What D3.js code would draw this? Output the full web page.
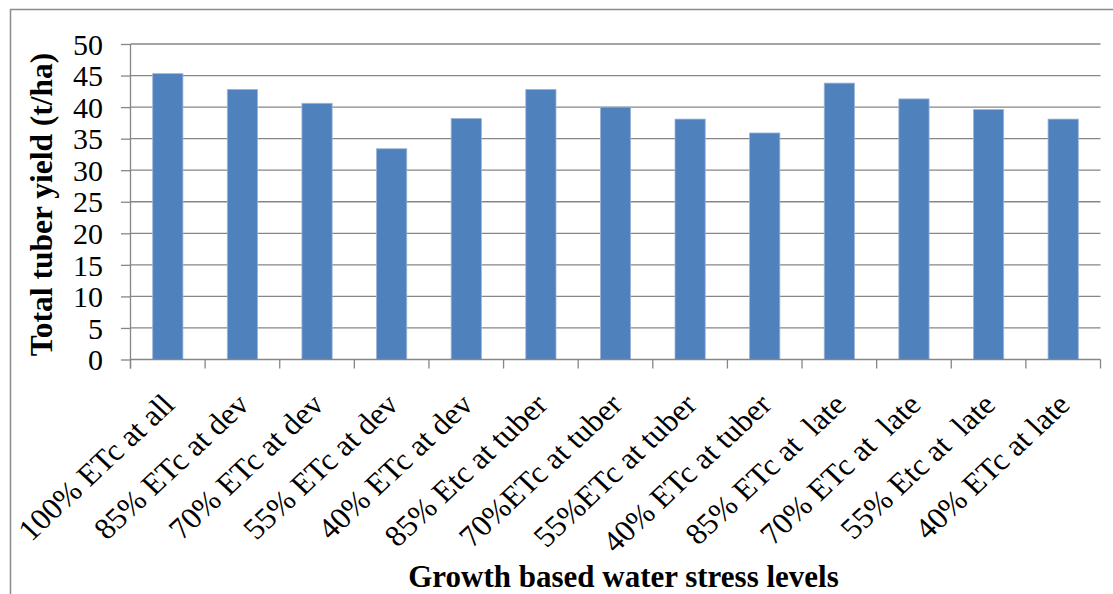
<!DOCTYPE html>
<html>
<head>
<meta charset="utf-8">
<script src="https://cdn.jsdelivr.net/npm/d3@7"></script>
<style>
  html, body { margin: 0; padding: 0; background: #fff; }
  svg { display: block; }
</style>
</head>
<body>
<svg id="chart" width="1113" height="594"></svg>
<script>
// Treatments: water applied as % of crop evapotranspiration at each growth stage
const categories = [
  "100% ETc at all",
  "85% ETc at dev",
  "70% ETc at dev",
  "55% ETc at dev",
  "40% ETc at dev",
  "85% Etc at tuber",
  "70%ETc at tuber",
  "55%ETc at tuber",
  "40% ETc at tuber",
  "85% ETc at  late",
  "70% ETc at  late",
  "55% Etc at  late",
  "40% ETc at late"
];
// Total tuber yield (t/ha)
const yieldValues = [45.3, 42.8, 40.6, 33.4, 38.2, 42.8, 40.0, 38.1, 35.9, 43.8, 41.3, 39.6, 38.1];
const yTicks = [0, 5, 10, 15, 20, 25, 30, 35, 40, 45, 50];

const yTitle = "Total tuber yield (t/ha)";
const xTitle = "Growth based water stress levels";

const svg = d3.select("#chart");
const serif = "'Liberation Serif', 'Times New Roman', serif";

const plot = { left: 130.5, right: 1100.5, top: 44, bottom: 359.5 };

// outer chart frame
svg.append("rect")
  .attr("x", 10.5).attr("y", 9.5)
  .attr("width", 1120).attr("height", 600)
  .attr("fill", "none").attr("stroke", "#8c8c8c").attr("stroke-width", 1.5);

const x = d3.scaleBand()
  .domain(categories)
  .range([plot.left, plot.right])
  .paddingInner(0.595)
  .paddingOuter(0.2975);

const y = d3.scaleLinear().domain([0, 50]).range([plot.bottom, plot.top]);

// horizontal gridlines
svg.append("g")
  .selectAll("line")
  .data(yTicks.filter(t => t > 0))
  .join("line")
  .attr("x1", plot.left).attr("x2", plot.right)
  .attr("y1", d => y(d)).attr("y2", d => y(d))
  .attr("stroke", "#868686").attr("stroke-width", 1.3);

// bars
svg.append("g")
  .selectAll("rect")
  .data(yieldValues)
  .join("rect")
  .attr("x", (d, i) => x(categories[i]))
  .attr("width", x.bandwidth())
  .attr("y", d => y(d))
  .attr("height", d => y(0) - y(d))
  .attr("fill", "#4f81bd")
  .attr("stroke", "#9bb5d8")
  .attr("stroke-width", 0.8);

// y axis
const yAxis = d3.axisLeft(y)
  .tickValues(yTicks)
  .tickSize(9.5)
  .tickPadding(18);
const gy = svg.append("g")
  .attr("transform", `translate(${plot.left},0)`)
  .call(yAxis);
gy.select(".domain").attr("stroke", "#868686").attr("stroke-width", 1.3)
  .attr("d", `M0,${plot.top}V${plot.bottom + 9}`);
gy.selectAll(".tick line").attr("stroke", "#868686").attr("stroke-width", 1.3);
gy.selectAll(".tick text")
  .attr("font-family", serif).attr("font-size", 30).attr("fill", "#000")
  .attr("dy", "0.34em");

// x axis: ticks sit on category boundaries
const boundaries = d3.range(categories.length + 1).map(i => plot.left + i * x.step());
const gx = svg.append("g");
gx.append("line")
  .attr("x1", plot.left).attr("x2", plot.right)
  .attr("y1", plot.bottom).attr("y2", plot.bottom)
  .attr("stroke", "#868686").attr("stroke-width", 1.3);
gx.selectAll("line.tk")
  .data(boundaries)
  .join("line")
  .attr("class", "tk")
  .attr("x1", d => d).attr("x2", d => d)
  .attr("y1", plot.bottom).attr("y2", plot.bottom + 9)
  .attr("stroke", "#868686").attr("stroke-width", 1.3);

// rotated category labels
gx.selectAll("text")
  .data(categories)
  .join("text")
  .attr("transform", d => `translate(${x(d) + x.bandwidth() / 2 + 8.5},${plot.bottom + 47}) scale(1.07,1) rotate(-45)`)
  .attr("text-anchor", "end")
  .attr("font-family", serif)
  .attr("font-size", 30)
  .attr("fill", "#000")
  .style("white-space", "pre")
  .attr("xml:space", "preserve")
  .text(d => d);

// axis titles
svg.append("text")
  .attr("transform", `translate(52,204.5) rotate(-90) scale(1,1.03)`)
  .attr("text-anchor", "middle")
  .attr("font-family", serif).attr("font-weight", "bold").attr("font-size", 31.5)
  .attr("fill", "#000")
  .text(yTitle);

svg.append("text")
  .attr("transform", `translate(623.5,587)`)
  .attr("text-anchor", "middle")
  .attr("font-family", serif).attr("font-weight", "bold").attr("font-size", 31)
  .attr("fill", "#000")
  .text(xTitle);
</script>
</body>
</html>
